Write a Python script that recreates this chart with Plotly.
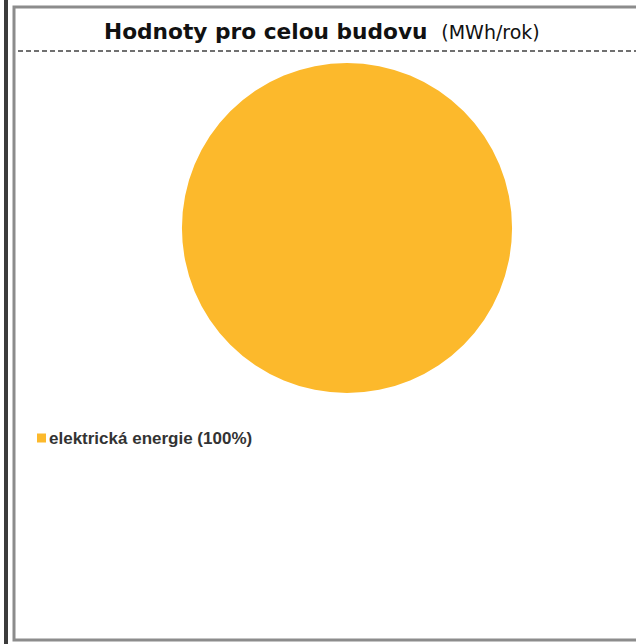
import plotly.graph_objects as go

# Data
labels = ["elektrická energie"]
values = [100]
colors = ["#FCB92C"]
title_main = "Hodnoty pro celou budovu"
title_unit = "(MWh/rok)"

W, H = 636, 644

def px(x):
    return x / W

def py(y):
    return 1 - y / H

total = sum(values)

fig = go.Figure()
fig.add_trace(go.Pie(
    labels=labels,
    values=values,
    marker=dict(colors=colors, line=dict(width=0)),
    textinfo="none",
    sort=False,
    showlegend=False,
    domain=dict(x=[px(182), px(512)], y=[py(393), py(63)]),
))

shapes = [
    # dark outer left bar
    dict(type="rect", xref="paper", yref="paper", x0=px(4), x1=px(8), y0=0, y1=1,
         fillcolor="#3c3c3c", line=dict(width=0), layer="above"),
    # inner frame
    dict(type="rect", xref="paper", yref="paper", x0=px(14), x1=px(645), y0=py(640), y1=py(7),
         fillcolor="rgba(0,0,0,0)", line=dict(color="#8c8c8c", width=3), layer="above"),
    # dashed separator
    dict(type="line", xref="paper", yref="paper", x0=px(18), x1=px(636), y0=py(51), y1=py(51),
         line=dict(color="#707070", width=2, dash="5px,3px"), layer="above"),
]

annotations = [
    dict(xref="paper", yref="paper", x=px(322), y=py(31), xanchor="center", yanchor="middle",
         showarrow=False,
         text=f"<b>{title_main}</b>  <span style='font-size:19px'>{title_unit}</span>",
         font=dict(family="DejaVu Sans", size=21.7, color="#111111")),
]

# legend drawn as square + text
for i, (lab, val) in enumerate(zip(labels, values)):
    yc = 438 + i * 20
    shapes.append(dict(type="rect", xref="paper", yref="paper", x0=px(37), x1=px(46),
                       y0=py(yc + 4.5), y1=py(yc - 4.5), fillcolor=colors[i], line=dict(width=0)))
    pct = round(val / total * 100)
    annotations.append(dict(xref="paper", yref="paper", x=px(47), y=py(yc), xanchor="left",
                            yanchor="middle", showarrow=False,
                            text=f"<b>{lab} ({pct}%)</b>",
                            font=dict(family="Liberation Sans", size=17, color="#333333")))

fig.update_layout(
    width=W, height=H,
    margin=dict(l=0, r=0, t=0, b=0),
    paper_bgcolor="white",
    plot_bgcolor="white",
    shapes=shapes,
    annotations=annotations,
    showlegend=False,
)

fig.write_html(
    "out.html",
    config={"displayModeBar": False},
    post_script="document.body.style.margin='0';document.body.style.overflow='hidden';",
)
